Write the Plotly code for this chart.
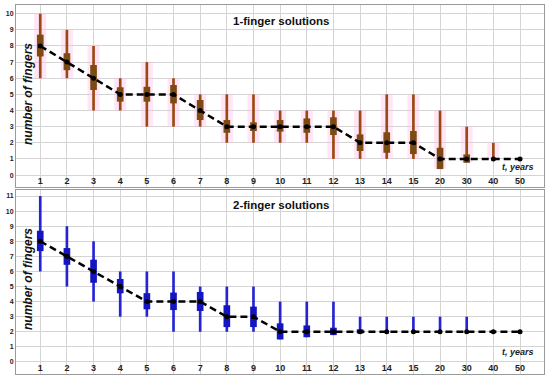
import plotly.graph_objects as go

years = ["1", "2", "3", "4", "5", "6", "7", "8", "9", "10", "11", "12", "13", "14", "15", "20", "30", "40", "50"]
y1_ticks = list(range(0, 11))
y2_ticks = list(range(0, 12))

# 1-finger solutions
f1_min = [6, 6, 4, 4, 3, 3, 3, 2, 2, 2, 2, 1, 1, 1, 1, 0.4, 0.8, 1, 1]
f1_max = [10, 9, 8, 6, 7, 6, 5, 5, 5, 4, 4, 4, 4, 5, 5, 4, 3, 2, 1]
f1_q1 = [7.35, 6.5, 5.27, 4.55, 4.55, 4.44, 3.41, 2.62, 2.73, 2.69, 2.62, 2.48, 1.49, 1.38, 1.3, 0.37, 0.76, 1, 1]
f1_q3 = [8.7, 7.55, 6.82, 5.44, 5.47, 5.58, 4.65, 3.41, 3.27, 3.41, 3.51, 3.58, 2.52, 2.65, 2.73, 1.69, 1.28, 1, 1]
f1_med = [8, 7, 6, 5, 5, 5, 4, 3, 3, 3, 3, 3, 2, 2, 2, 1, 1, 1, 1]

# 2-finger solutions
f2_min = [6, 5, 4, 3, 3, 2, 2, 2, 2, 1.5, 1.64, 1.78, 2, 2, 2, 2, 2, 2, 2]
f2_max = [11, 9, 8, 6, 6, 6, 5, 5, 5, 4, 4, 4, 3, 3, 3, 3, 3, 2, 2]
f2_q1 = [7.35, 6.44, 5.25, 4.55, 3.49, 3.44, 3.38, 2.31, 2.31, 1.49, 1.64, 1.78, 1.89, 2, 2, 2, 2, 2, 2]
f2_q3 = [8.7, 7.55, 6.78, 5.5, 4.56, 4.6, 4.64, 3.76, 3.67, 2.56, 2.42, 2.27, 2.16, 2, 2, 2, 2, 2, 2]
f2_med = [8, 7, 6, 5, 4, 4, 4, 3, 3, 2, 2, 2, 2, 2, 2, 2, 2, 2, 2]

xi = list(range(len(years)))

fig = go.Figure()

def add_panel(row_axes, vmin, vmax, q1, q3, med, wcol, bcol, halo):
    xa, ya = row_axes
    if halo:
        fig.add_trace(go.Bar(x=xi, base=vmin, y=[b - a for a, b in zip(vmin, vmax)],
                             width=0.45, marker=dict(color="rgba(255,190,230,0.4)", line_width=0),
                             xaxis=xa, yaxis=ya, hoverinfo="skip", showlegend=False))
    fig.add_trace(go.Bar(x=xi, base=vmin, y=[b - a for a, b in zip(vmin, vmax)],
                         width=0.1, marker=dict(color=wcol, line_width=0),
                         xaxis=xa, yaxis=ya, showlegend=False))
    fig.add_trace(go.Bar(x=xi, base=q1, y=[b - a for a, b in zip(q1, q3)],
                         width=0.25, marker=dict(color=bcol, line_width=0),
                         xaxis=xa, yaxis=ya, showlegend=False))
    fig.add_trace(go.Scatter(x=xi, y=med, mode="lines+markers",
                             line=dict(color="black", width=2.5, dash="7px,4px"),
                             marker=dict(color="black", size=5),
                             xaxis=xa, yaxis=ya, showlegend=False))

add_panel(("x", "y"), f1_min, f1_max, f1_q1, f1_q3, f1_med, "#9c4812", "#7d4a12", True)
add_panel(("x2", "y2"), f2_min, f2_max, f2_q1, f2_q3, f2_med, "#2424d4", "#1414c0", False)

grid = "#d4d4d4"
border = "#9a9a9a"
xcommon = dict(range=[-0.91, 18.9], tickmode="array", tickvals=xi,
               ticktext=["<b>%s</b>" % t for t in years],
               ticklabelposition="inside", ticks="", showgrid=True, gridcolor=grid, gridwidth=1,
               showline=True, linecolor=border, linewidth=1, mirror=True, zeroline=False,
               automargin=False,
               tickfont=dict(family="Arial, Liberation Sans", size=9, color="#222"))
ycommon = dict(tickmode="array", showgrid=True, gridcolor=grid, gridwidth=1, ticks="",
               showline=True, linecolor=border, linewidth=1, mirror=True, zeroline=False,
               automargin=False,
               tickfont=dict(family="Arial, Liberation Sans", size=7, color="#222"))

fig.update_layout(
    width=550, height=376,
    margin=dict(l=16, r=6, t=5, b=2),
    paper_bgcolor="white", plot_bgcolor="white",
    barmode="overlay",
    xaxis=dict(**xcommon, anchor="y", domain=[0, 1]),
    yaxis=dict(**ycommon, tickvals=y1_ticks, ticktext=["<b>%d</b>" % v for v in y1_ticks],
               range=[-0.74, 10.54], domain=[0.5068, 1], anchor="x"),
    xaxis2=dict(**xcommon, anchor="y2", domain=[0, 1]),
    yaxis2=dict(**ycommon, tickvals=y2_ticks, ticktext=["<b>%d</b>" % v for v in y2_ticks],
                range=[-0.8, 11.4], domain=[0, 0.4986], anchor="x2"),
)

tfont = dict(family="Arial, Liberation Sans", size=11.5, color="#111")
lfont = dict(family="Arial, Liberation Sans", size=12, color="#111")
yfont = dict(family="Arial, Liberation Sans", size=9, color="#222")

def px(xp):
    return (xp - 16) / 528

def py(yp):
    return (374 - yp) / 369

fig.add_annotation(text="<b>1-finger solutions</b>", xref="paper", yref="paper",
                   x=px(281), y=py(21), xanchor="center", yanchor="middle", showarrow=False, font=tfont)
fig.add_annotation(text="<b>2-finger solutions</b>", xref="paper", yref="paper",
                   x=px(281), y=py(205), xanchor="center", yanchor="middle", showarrow=False, font=tfont)
fig.add_annotation(text="<b><i>number of fingers</i></b>", xref="paper", yref="paper",
                   x=px(28), y=py(94), xanchor="center", yanchor="middle", showarrow=False,
                   textangle=-90, font=lfont)
fig.add_annotation(text="<b><i>number of fingers</i></b>", xref="paper", yref="paper",
                   x=px(28), y=py(279), xanchor="center", yanchor="middle", showarrow=False,
                   textangle=-90, font=lfont)
fig.add_annotation(text="<b><i>t, years</i></b>", xref="paper", yref="paper",
                   x=px(536), y=py(167), xanchor="right", yanchor="middle", showarrow=False, font=yfont)
fig.add_annotation(text="<b><i>t, years</i></b>", xref="paper", yref="paper",
                   x=px(536), y=py(352), xanchor="right", yanchor="middle", showarrow=False, font=yfont)

fig.write_html("out.html", config={"displayModeBar": False},
               post_script="document.body.style.margin='0';")
